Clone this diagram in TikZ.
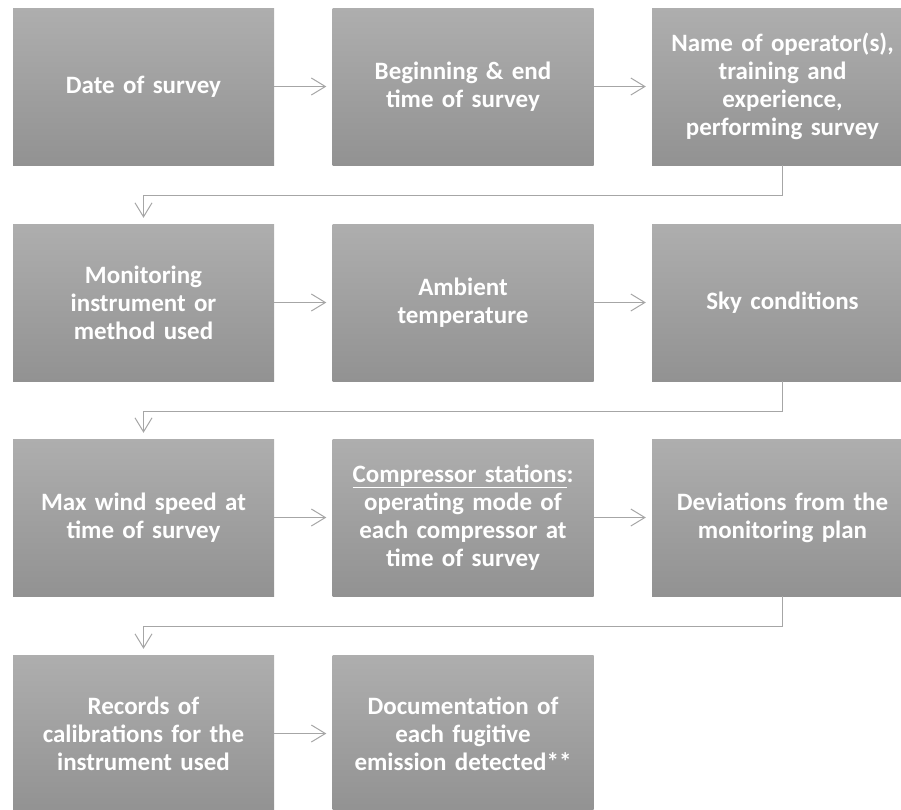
\documentclass[tikz,border=0pt]{standalone}
\usepackage{fontspec}
\setmainfont{Carlito}
\usetikzlibrary{arrows.meta}
\definecolor{boxtop}{RGB}{174,174,174}
\definecolor{boxbot}{RGB}{146,146,146}
\definecolor{linegray}{RGB}{166,166,166}
\tikzset{
  stepbox/.style={rectangle, minimum width=261pt, minimum height=157pt, inner sep=0pt,
    top color=boxtop, bottom color=boxbot, draw=none,
    text=white, font=\fontsize{25}{28}\selectfont\bfseries, align=center, text width=255pt},
  conn/.style={draw=linegray, line width=1pt, -{Straight Barb[length=14pt,width=17pt,line width=1pt]}, shorten >=6pt},
}
\begin{document}
\begin{tikzpicture}[x=1pt,y=1pt]
\path[use as bounding box] (0,0) rectangle (901,-809);
\begin{scope}
\clip (0,0) rectangle (901,-809);
\node[stepbox] (a1) at (143.5,-86.5) {Date of survey};
\node[stepbox] (a2) at (463,-86.5) {Beginning \& end\\time of survey};
\node[stepbox] (a3) at (782.5,-86.5) {Name of operator(s),\\training and\\experience,\\performing survey};
\node[stepbox] (b1) at (143.5,-302.5) {Monitoring\\instrument or\\method used};
\node[stepbox] (b2) at (463,-302.5) {Ambient\\temperature};
\node[stepbox] (b3) at (782.5,-302.5) {Sky conditions};
\node[stepbox] (c1) at (143.5,-517.5) {Max wind speed at\\time of survey};
\node[stepbox] (c2) at (463,-517.5) {\underline{Compressor stations}:\\operating mode of\\each compressor at\\time of survey};
\node[stepbox] (c3) at (782.5,-517.5) {Deviations from the\\monitoring plan};
\node[stepbox] (d1) at (143.5,-733.5) {Records of\\calibrations for the\\instrument used};
\node[stepbox] (d2) at (463,-733.5) {Documentation of\\each fugitive\\emission detected**};
\end{scope}
\draw[conn] (a1) -- (a2);
\draw[conn] (a2) -- (a3);
\draw[conn] (a3.south) -- ++(0,-30) -| (b1.north);
\draw[conn] (b1) -- (b2);
\draw[conn] (b2) -- (b3);
\draw[conn] (b3.south) -- ++(0,-30) -| (c1.north);
\draw[conn] (c1) -- (c2);
\draw[conn] (c2) -- (c3);
\draw[conn] (c3.south) -- ++(0,-30) -| (d1.north);
\draw[conn] (d1) -- (d2);
\end{tikzpicture}
\end{document}
